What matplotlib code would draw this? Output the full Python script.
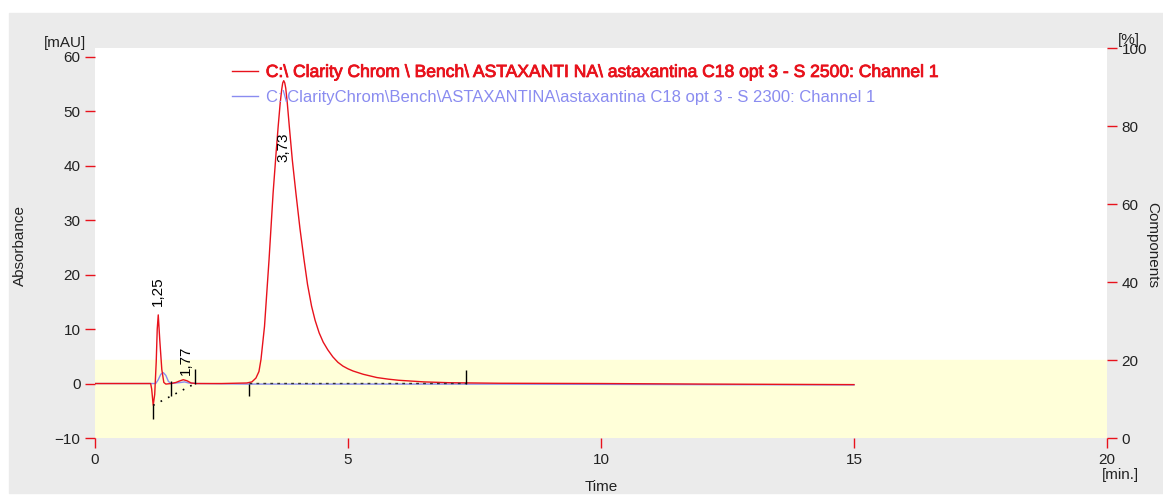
import numpy as np
import matplotlib
matplotlib.use("Agg")
import matplotlib.pyplot as plt
import matplotlib.patheffects as pe
from matplotlib.patches import Rectangle

plt.rcParams['font.family'] = ['Liberation Sans', 'DejaVu Sans']

# chromatogram, sample S 2500 (red)
t_2500 = [0.0, 0.60, 1.10, 1.12, 1.15, 1.18, 1.21, 1.23, 1.25, 1.28, 1.32,
          1.36, 1.40, 1.50, 1.60, 1.68, 1.745, 1.82, 1.90, 2.00, 2.50, 3.00,
          3.10, 3.18, 3.24, 3.28, 3.35, 3.44, 3.52, 3.58, 3.62, 3.66, 3.69,
          3.71, 3.73, 3.75, 3.77, 3.80, 3.84, 3.90, 3.97, 4.05, 4.13, 4.20,
          4.28, 4.35, 4.43, 4.51, 4.60, 4.70, 4.80, 4.90, 5.00, 5.10, 5.30,
          5.57, 5.80, 6.00, 6.50, 7.00, 8.00, 10.0, 12.0, 15.0]
a_2500 = [0.0, 0.0, 0.0, -1.0, -4.0, -2.0, 4.0, 10.0, 12.6, 8.0, 2.6,
          0.2, -0.1, 0.0, 0.2, 0.5, 0.7, 0.5, 0.1, 0.0, 0.0, 0.1,
          0.3, 1.0, 2.2, 4.4, 10.5, 22.8, 35.0, 42.5, 47.2, 51.5, 54.0,
          55.2, 55.6, 55.2, 54.2, 51.5, 47.2, 41.0, 35.0, 28.5, 22.8, 18.2,
          14.2, 11.6, 9.3, 7.6, 6.2, 4.9, 3.9, 3.2, 2.7, 2.3, 1.7,
          1.1, 0.8, 0.6, 0.3, 0.15, 0.05, 0.0, -0.1, -0.2]

# chromatogram, sample S 2300 (blue)
t_2300 = [0.0, 1.10, 1.20, 1.25, 1.30, 1.35, 1.40, 1.45, 1.50, 1.70, 1.77,
          1.85, 2.00, 3.00, 5.00, 8.00, 12.0, 15.0]
a_2300 = [0.0, 0.0, 0.0, 0.7, 1.7, 2.0, 1.5, 0.4, 0.0, 0.2, 0.3,
          0.1, 0.0, -0.1, -0.1, -0.1, -0.2, -0.25]

# peak labels (retention times) and where they are written
peak_rt = ["1,25", "1,77", "3,73"]
peak_lbl_t = [1.25, 1.80, 3.73]
peak_lbl_a = [17.0, 4.2, 43.3]

# integration markers (time, from, to)
mark_t = [1.15, 1.51, 1.98, 3.04, 7.33]
mark_lo = [-6.5, -2.2, 0.0, -2.2, 0.0]
mark_hi = [-4.0, 0.4, 2.6, 0.0, 2.5]

# integration baselines
base1_t = [1.15, 1.98]
base1_a = [-4.0, 0.0]
base2_t = [3.04, 7.33]
base2_a = [0.15, 0.15]

labels = ["C:\\ Clarity Chrom \\ Bench\\ ASTAXANTI NA\\ astaxantina C18 opt 3 - S 2500: Channel 1",
          "C:\\ClarityChrom\\Bench\\ASTAXANTINA\\astaxantina C18 opt 3 - S 2300: Channel 1"]

RED = '#e8121c'
BLUE = '#8a8cf0'
YELLOW = '#ffffd9'
GRAY = '#ebebeb'

y_min, y_max = -10, 61.6
pct_band = 20

fig = plt.figure(figsize=(11.63, 4.95), dpi=100)
fig.patches.append(Rectangle((9 / 1163, 2 / 495), 1 - 9 / 1163, 480 / 495,
                             transform=fig.transFigure, color=GRAY, zorder=-10))

ax = fig.add_axes([95 / 1163, 57 / 495, 1012 / 1163, 390 / 495])
ax.set_xlim(0, 20)
ax.set_ylim(y_min, y_max)
band_top = y_min + (y_max - y_min) * pct_band / 100
ax.axhspan(y_min, band_top, color=YELLOW, zorder=0)

l2, = ax.plot(t_2300, a_2300, color=BLUE, lw=1.0, zorder=2)
l1, = ax.plot(t_2500, a_2500, color=RED, lw=1.0, zorder=3)

ax.plot(base1_t, base1_a, color='black', lw=1.2, ls=(0, (1, 4)), zorder=4)
ax.plot(base2_t, base2_a, color='#333333', lw=1.0, ls=(0, (2, 3)), zorder=4)
ax.vlines(mark_t, mark_lo, mark_hi, colors='black', lw=1.0, zorder=4)

for txt, tx, ty in zip(peak_rt, peak_lbl_t, peak_lbl_a):
    ax.text(tx, ty, txt, rotation=90, ha='center', va='center',
            fontsize=11, color='black', zorder=5)

ax.set_yticks([-10, 0, 10, 20, 30, 40, 50, 60])
ax.set_xticks([0, 5, 10, 15, 20])
ax.tick_params(axis='both', colors=RED, labelcolor='#222222', labelsize=11,
               length=7, width=1)
for s in ax.spines.values():
    s.set_visible(False)

ax2 = ax.twinx()
ax2.set_ylim(0, 100)
ax2.set_yticks([0, 20, 40, 60, 80, 100])
ax2.tick_params(axis='y', colors=RED, labelcolor='#222222', labelsize=11,
                length=7, width=1)
for s in ax2.spines.values():
    s.set_visible(False)

leg = ax.legend([l1, l2], labels, loc='upper left', bbox_to_anchor=(0.121, 0.995),
                frameon=False, fontsize=12, handlelength=1.55, handletextpad=0.45,
                labelspacing=0.62)
for txt, c in zip(leg.get_texts(), [RED, BLUE]):
    txt.set_color(c)
# the first entry is printed a little heavier and wider
leg.get_texts()[0].set_fontsize(12.6)
leg.get_texts()[0].set_path_effects([pe.withStroke(linewidth=0.6, foreground=RED)])

fig.text(65 / 1163, 1 - 43 / 495, "[mAU]", ha='center', va='center', fontsize=11, color='#222222')
fig.text(20 / 1163, 1 - 245 / 495, "Absorbance", ha='center', va='center', rotation=90,
         fontsize=11, color='#222222')
fig.text(1129 / 1163, 1 - 40 / 495, "[%]", ha='center', va='center', fontsize=11, color='#222222')
fig.text(1152 / 1163, 1 - 245 / 495, "Components", ha='center', va='center', rotation=270,
         fontsize=11, color='#222222')
fig.text(601 / 1163, 1 - 487 / 495, "Time", ha='center', va='center', fontsize=11, color='#222222')
fig.text(1120 / 1163, 1 - 475 / 495, "[min.]", ha='center', va='center', fontsize=11, color='#222222')

fig.savefig("out.png", dpi=100)
